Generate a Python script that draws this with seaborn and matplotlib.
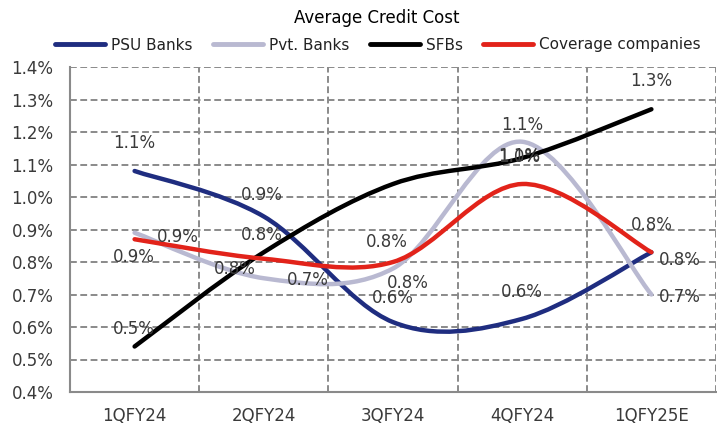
import numpy as np
import pandas as pd
import matplotlib
matplotlib.use("Agg")
import matplotlib.pyplot as plt
import seaborn as sns
from matplotlib.path import Path
from matplotlib.patches import PathPatch
from matplotlib.lines import Line2D

# data
quarters = ["1QFY24", "2QFY24", "3QFY24", "4QFY24", "1QFY25E"]
psu_banks = [1.08, 0.94, 0.615, 0.625, 0.83]
pvt_banks = [0.89, 0.75, 0.78, 1.17, 0.70]
sfbs = [0.54, 0.83, 1.04, 1.12, 1.27]
coverage = [0.87, 0.81, 0.80, 1.04, 0.83]

# data label texts as printed on the chart
psu_labels = ["1.1%", "0.9%", "0.6%", "0.6%", "0.8%"]
pvt_labels = ["0.9%", "0.7%", "0.8%", "1.1%", "0.7%"]
sfb_labels = ["0.5%", "0.8%", None, "1.1%", "1.3%"]
cov_labels = ["0.9%", "0.8%", "0.8%", "1.0%", "0.8%"]

df = pd.DataFrame({
    "Quarter": quarters,
    "PSU Banks": psu_banks,
    "Pvt. Banks": pvt_banks,
    "SFBs": sfbs,
    "Coverage companies": coverage,
})

sns.set_theme(style="white")
plt.rcParams["font.family"] = ["DejaVu Sans"]

colors = {
    "PSU Banks": "#1f2d80",
    "Pvt. Banks": "#b9b9d1",
    "SFBs": "#000000",
    "Coverage companies": "#e2231a",
}
labels = {
    "PSU Banks": psu_labels,
    "Pvt. Banks": pvt_labels,
    "SFBs": sfb_labels,
    "Coverage companies": cov_labels,
}
# label offsets in pixels (dx, dy) from each point
offsets = {
    "PSU Banks": [(0, 28), (-2, 21), (0, 24), (0, 27), (28, -8)],
    "Pvt. Banks": [(-1, -24), (44, -2), (15, -14), (0, 17), (28, -3)],
    "SFBs": [(-1, 17), (-2, 17), (0, 0), (-3, 2), (0, 28)],
    "Coverage companies": [(43, 2), (-29, -10), (-6, 20), (-3, 27), (0, 27)],
}


def smooth_path(xs, ys):
    # excel-like smoothed line: cubic bezier segments through the points
    pts = np.column_stack([xs, ys])
    n = len(pts)
    verts = [pts[0]]
    codes = [Path.MOVETO]
    for i in range(n - 1):
        p0 = pts[i - 1] if i > 0 else pts[i]
        p1 = pts[i]
        p2 = pts[i + 1]
        p3 = pts[i + 2] if i + 2 < n else pts[i + 1]
        c1 = p1 + (p2 - p0) / 6.0
        c2 = p2 - (p3 - p1) / 6.0
        verts += [c1, c2, p2]
        codes += [Path.CURVE4] * 3
    return Path(verts, codes)


fig = plt.figure(figsize=(7.17, 4.25), dpi=100)
ax = fig.add_axes([70 / 717, 1 - 392 / 425, 646 / 717, 325 / 425])

x = np.arange(len(df))
for name in ["PSU Banks", "Pvt. Banks", "SFBs", "Coverage companies"]:
    patch = PathPatch(smooth_path(x, df[name].values), fill=False,
                      edgecolor=colors[name], lw=3.2,
                      capstyle="round", joinstyle="round", zorder=3)
    ax.add_patch(patch)

for name in labels:
    for i, txt in enumerate(labels[name]):
        if txt is None:
            continue
        ax.annotate(txt, (x[i], df[name].values[i]),
                    xytext=offsets[name][i], textcoords="offset pixels",
                    ha="center", va="center", fontsize=12, color="#3a3a3a",
                    zorder=5)

ax.set_xlim(-0.5, 4.5)
ax.set_ylim(0.4, 1.4)
ax.set_yticks(np.arange(0.4, 1.41, 0.1))
ax.set_yticklabels([f"{v:.1f}%" for v in np.arange(0.4, 1.41, 0.1)])
ax.set_xticks(x)
ax.set_xticklabels(quarters)
ax.set_xticks(np.arange(-0.5, 4.6, 1), minor=True)
ax.tick_params(axis="x", which="major", length=0, pad=11, labelsize=12,
               labelcolor="#3a3a3a")
ax.tick_params(axis="x", which="minor", length=8, direction="inout",
               color="#8a8a8a", width=1.4)
ax.tick_params(axis="y", length=8, direction="inout", color="#8a8a8a",
               width=1.4, pad=8, labelsize=12, labelcolor="#3a3a3a")

grid_kw = dict(color="#8a8a8a", lw=1.4, linestyle=(0, (3.5, 1.8)))
ax.grid(True, which="major", axis="y", **grid_kw)
ax.grid(True, which="minor", axis="x", **grid_kw)
ax.set_axisbelow(True)

sns.despine(ax=ax, top=True, right=True)
for side in ["left", "bottom"]:
    ax.spines[side].set_color("#8a8a8a")
    ax.spines[side].set_linewidth(1.5)
ax.spines["bottom"].set_zorder(4)

fig.text(377 / 717, 1 - 18 / 425, "Average Credit Cost", ha="center",
         va="center", fontsize=12, color="black")

handles = [Line2D([0], [0], color=colors[n], lw=3.5, solid_capstyle="round")
           for n in colors]
fig.legend(handles, list(colors.keys()), loc="center",
           bbox_to_anchor=(378 / 717, 1 - 45 / 425), ncol=4, frameon=False,
           fontsize=11, handlelength=3.3, handletextpad=0.4,
           columnspacing=1.3, borderaxespad=0, labelcolor="#222222")

fig.savefig("out.png", dpi=100)
